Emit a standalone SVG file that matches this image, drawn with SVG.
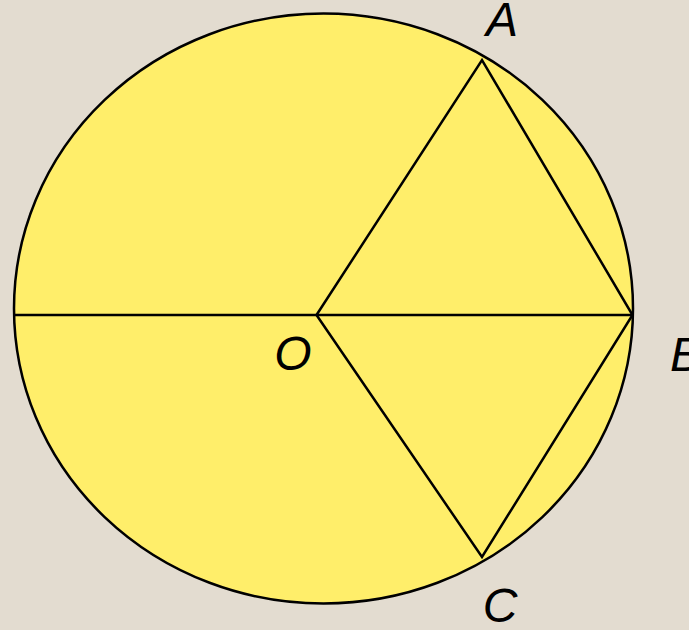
<svg xmlns="http://www.w3.org/2000/svg" width="689" height="630" viewBox="0 0 689 630">
<style>
.ln{stroke:#000;stroke-width:2.5;fill:none;stroke-linejoin:miter}
.lbl{font-family:"Liberation Sans","DejaVu Sans",sans-serif;font-style:italic;font-size:48px;fill:#000}
</style>
<rect width="689" height="630" fill="#E3DCD0"/>
<g id="circle">
<ellipse cx="323.5" cy="308.5" rx="309.5" ry="295" fill="#FFEE6A" stroke="#000" stroke-width="2.5"/>
</g>
<g id="connectors">
<line class="ln" x1="14" y1="315" x2="632.5" y2="315"/>
<polyline class="ln" points="316.5,315 482,60 632.5,315 482,557 316.5,315"/>
</g>
<g id="labelA"><text class="lbl" x="502" y="36" text-anchor="middle">A</text></g>
<g id="labelB"><text class="lbl" x="670" y="371">B</text></g>
<g id="labelO"><text class="lbl" x="293" y="370" text-anchor="middle">O</text></g>
<g id="labelC"><text class="lbl" x="500" y="622" text-anchor="middle">C</text></g>
</svg>
